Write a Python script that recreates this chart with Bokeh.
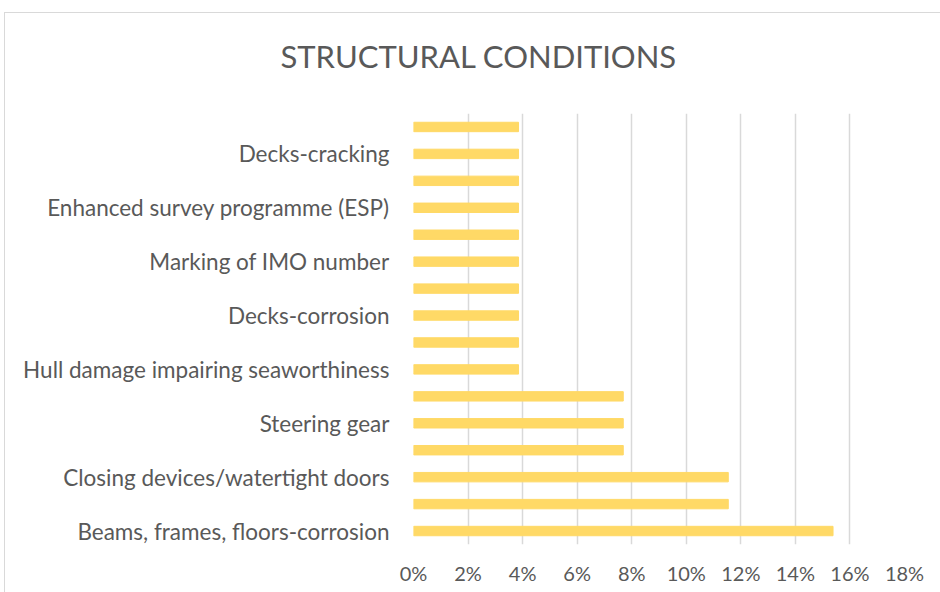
from bokeh.plotting import figure
from bokeh.models import FixedTicker, Title, CustomJSTickFormatter
from bokeh.embed import file_html
from bokeh.resources import INLINE

# Data (bottom to top)
labels = ["Beams, frames, floors-corrosion", "", "Closing devices/watertight doors", "",
          "Steering gear", "", "Hull damage impairing seaworthiness", "",
          "Decks-corrosion", "", "Marking of IMO number", "",
          "Enhanced survey programme (ESP)", "", "Decks-cracking", ""]
values = [15.38, 11.54, 11.54, 7.69, 7.69, 7.69, 3.85, 3.85,
          3.85, 3.85, 3.85, 3.85, 3.85, 3.85, 3.85, 3.85]
x_ticks = [0, 2, 4, 6, 8, 10, 12, 14, 16, 18]

positions = list(range(len(values)))
FONT = "Lato"
TXT = "#595959"

p = figure(width=936, height=580, output_backend="svg", toolbar_location=None,
           x_range=(0, 18), y_range=(-0.5, len(values) - 0.5),
           min_border_left=408, min_border_right=37, min_border_top=100, min_border_bottom=49)
p.margin = (12, 0, 0, 4)
p.styles = {"border-top": "1px solid #d9d9d9", "border-left": "1px solid #d9d9d9"}

p.hbar(y=positions, right=values, left=0, height=0.35, color="#FFD966")

p.xaxis.ticker = FixedTicker(ticks=x_ticks)
p.xaxis.formatter = CustomJSTickFormatter(code="return tick.toFixed(0) + '%';")
p.yaxis.ticker = FixedTicker(ticks=[i for i, l in enumerate(labels) if l])
p.yaxis.major_label_overrides = {i: l for i, l in enumerate(labels) if l}

for ax in (p.xaxis[0], p.yaxis[0]):
    ax.axis_line_color = None
    ax.major_tick_line_color = None
    ax.minor_tick_line_color = None
    ax.major_label_text_font = FONT
    ax.major_label_text_color = TXT
p.xaxis.major_label_text_font_size = "20px"
p.yaxis.major_label_text_font_size = "22.5px"
p.xaxis.major_label_standoff = 10
p.yaxis.major_label_standoff = 18

p.ygrid.grid_line_color = None
p.xgrid.grid_line_color = "#d9d9d9"
p.xgrid.grid_line_width = 1.5
p.outline_line_color = None

p.add_layout(Title(text="STRUCTURAL CONDITIONS\n ", align="left", offset=-133, standoff=1,
                   text_font=FONT, text_font_size="31px", text_font_style="normal",
                   text_color=TXT), "above")

open("out.html", "w").write(file_html(p, INLINE))
